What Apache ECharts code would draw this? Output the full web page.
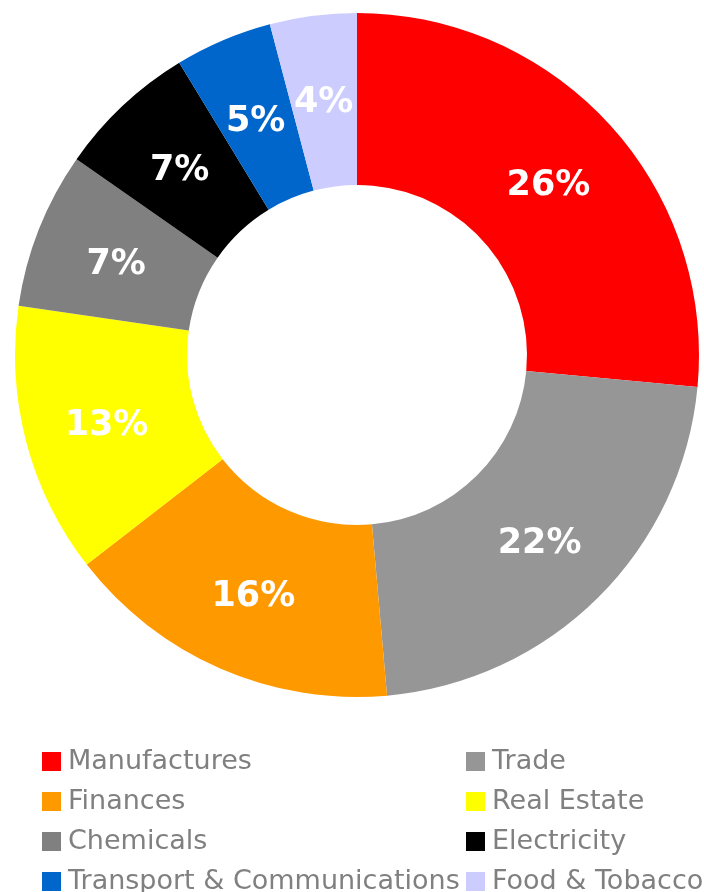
<!DOCTYPE html>
<html>
<head>
<meta charset="utf-8">
<script src="https://cdn.jsdelivr.net/npm/echarts@6.0.0/dist/echarts.min.js"></script>
<style>
  html, body { margin: 0; padding: 0; background: #fff; }
  #chart { width: 704px; height: 892px; }
</style>
</head>
<body>
<div id="chart"></div>
<script>
// data (share of total, %)
const sectors = ['Manufactures', 'Trade', 'Finances', 'Real Estate', 'Chemicals', 'Electricity', 'Transport & Communications', 'Food & Tobacco'];
const shares = [26.49, 22.11, 15.9, 12.8, 7.4, 6.6, 4.6, 4.1];
const colors = ['#ff0000', '#969696', '#ff9900', '#ffff00', '#808080', '#000000', '#0066cc', '#ccccff'];

// legend columns
const leftLegend = ['Manufactures', 'Finances', 'Chemicals', 'Transport & Communications'];
const rightLegend = ['Trade', 'Real Estate', 'Electricity', 'Food & Tobacco'];

const chart = echarts.init(document.getElementById('chart'));

const legendBase = {
  orient: 'vertical',
  top: 743,
  height: 160,
  icon: 'rect',
  itemWidth: 19,
  itemHeight: 19,
  itemGap: 13,
  textStyle: {
    fontFamily: 'DejaVu Sans',
    fontSize: 27,
    color: '#808080',
    padding: [0, 0, 0, 2],
  },
};

chart.setOption({
  animation: false,
  color: colors,
  legend: [
    Object.assign({}, legendBase, { left: 37, data: leftLegend }),
    Object.assign({}, legendBase, { left: 461, data: rightLegend }),
  ],
  series: [
    {
      type: 'pie',
      center: [357, 355],
      radius: [170, 342],
      startAngle: 90,
      clockwise: true,
      avoidLabelOverlap: false,
      itemStyle: { borderWidth: 0 },
      label: {
        show: true,
        position: 'inside',
        formatter: (p) => Math.round(p.value) + '%',
        color: '#fff',
        fontFamily: 'DejaVu Sans',
        fontWeight: 'bold',
        fontSize: 35,
        textBorderWidth: 0,
        offset: [0, 5],
      },
      labelLine: { show: false },
      emphasis: { disabled: true },
      data: sectors.map((name, i) => ({ name, value: shares[i] })),
    },
  ],
});
</script>
</body>
</html>
